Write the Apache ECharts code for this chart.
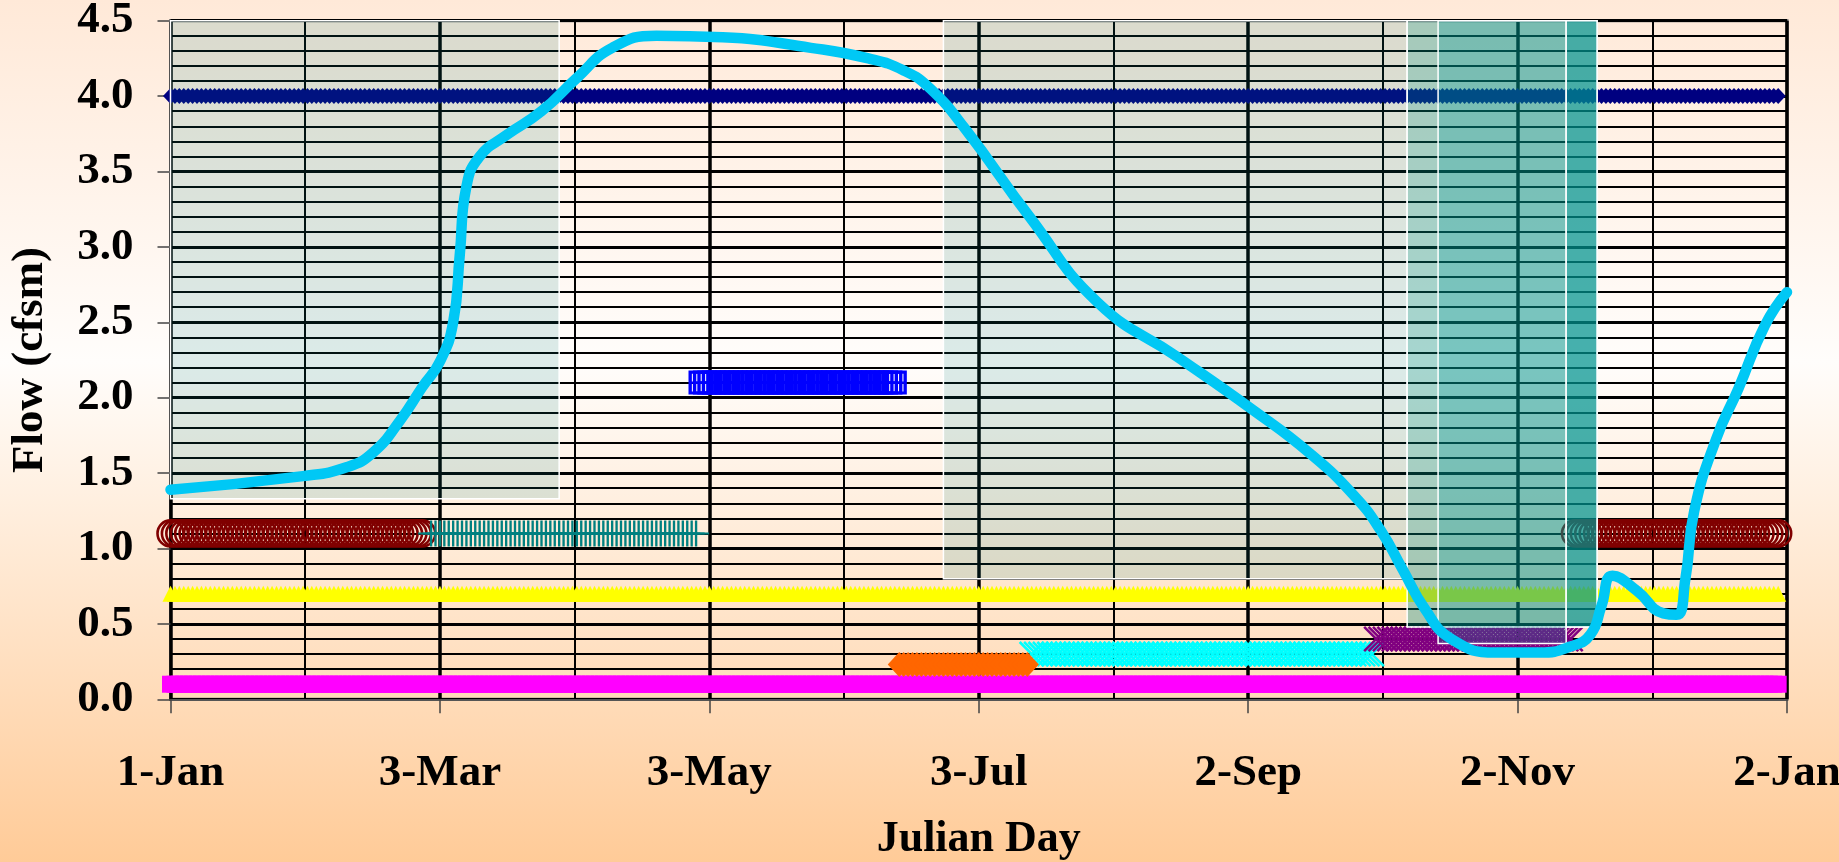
<!DOCTYPE html>
<html>
<head>
<meta charset="utf-8">
<script src="https://cdn.jsdelivr.net/npm/echarts@6/dist/echarts.min.js"></script>
<style>
  html, body { margin: 0; padding: 0; }
  body {
    width: 1839px; height: 862px; overflow: hidden;
    background: linear-gradient(to bottom, #FFE9D8 0%, #FFFDFB 42%, #FFCB98 100%);
  }
  #chart { width: 1839px; height: 862px; }
</style>
</head>
<body>
<div id="chart"></div>
<script>
// ---------- data ----------
const dayLabels = ['1-Jan', '3-Mar', '3-May', '3-Jul', '2-Sep', '2-Nov', '2-Jan'];
const yTickLabels = ['0.0', '0.5', '1.0', '1.5', '2.0', '2.5', '3.0', '3.5', '4.0', '4.5'];

// flow curve (day index from 1-Jan, flow in cfsm)
const flowDays = [0, 30, 40, 46, 52, 57, 61, 64, 65.5, 67, 70, 76, 84, 92, 100, 110, 125, 145, 158, 166,
  172, 180, 194.5, 210, 228, 245, 258, 268, 274, 279, 284, 290, 300, 310, 317, 321.5, 324, 326.5, 332,
  338, 341, 343, 345, 350, 355, 361, 366];
const flowValues = [1.39, 1.48, 1.54, 1.64, 1.85, 2.07, 2.24, 2.50, 2.95, 3.40, 3.60, 3.74, 3.90, 4.12, 4.32, 4.40, 4.39, 4.32, 4.25, 4.17,
  4.05, 3.78, 3.20, 2.63, 2.27, 1.92, 1.63, 1.35, 1.12, 0.86, 0.60, 0.40, 0.31, 0.31, 0.35, 0.43, 0.62, 0.82, 0.72,
  0.57, 0.56, 0.80, 1.25, 1.73, 2.06, 2.48, 2.70];

// flow-criterion bands: constant value over a span of days
const bandValue    = [4.0, 0.7, 0.1, 1.1, 1.1, 2.1, 0.3, 0.23, 0.4, 1.1];
const bandFirstDay = [0,   0,   0,   0,   59,  120, 195, 165,  273, 318];
const bandLastDay  = [364, 364, 364, 57,  119, 164, 272, 194,  317, 364];

// shaded seasonal windows
const shadeStart = [0,    175, 280,  287,  316];
const shadeEnd   = [88,   280, 323,  316,  323];
const shadeLow   = [1.33, 0.8, 0.48, 0.37, 0.48];
const shadeHigh  = [4.5,  4.5, 4.5,  4.5,  4.5];

// ---------- styles ----------
const FONT = '"Liberation Serif", "Times New Roman", serif';
const plusPath = 'path://M-1,-0.08L1,-0.08L1,0.08L-1,0.08Z M-0.09,-1L0.09,-1L0.09,1L-0.09,1Z';
const xPath = 'path://M-1,-0.86L-0.86,-1L1,0.86L0.86,1Z M0.86,-1L1,-0.86L-0.86,1L-1,0.86Z';
const boxPath = 'path://M-1,-1L1,-1L1,1L-1,1Z M-0.72,-0.74L-0.72,-0.1L0.72,-0.1L0.72,-0.74Z M-0.72,0.1L-0.72,0.74L0.72,0.74L0.72,0.1Z';
const bandStyle = [
  { symbol: 'diamond', size: [15, 16], color: '#000080' },
  { symbol: 'triangle', size: [16, 16], color: '#FFFF00' },
  { symbol: 'rect', size: [17, 17], color: '#FF00FF' },
  { symbol: 'circle', size: 26, color: 'rgba(0,0,0,0)', border: '#800000', bw: 2.6 },
  { symbol: plusPath, size: 26, color: '#008080' },
  { symbol: boxPath, size: 24, color: '#0000FF' },
  { symbol: xPath, size: 26, color: '#00FFFF' },
  { symbol: 'diamond', size: [23, 25], color: '#FF6600' },
  { symbol: xPath, size: 26, color: '#800080' },
  { symbol: 'circle', size: 26, color: 'rgba(0,0,0,0)', border: '#800000', bw: 2.6 }
];
const shadeFill = ['rgba(0,128,128,0.14)', 'rgba(0,128,128,0.14)', 'rgba(0,140,125,0.35)',
  'rgba(0,155,151,0.27)', 'rgba(0,150,149,0.58)'];

// ---------- build ----------
const bandSeries = bandValue.map((v, i) => {
  const pts = [];
  for (let d = bandFirstDay[i]; d <= bandLastDay[i]; d++) pts.push([d, v]);
  const st = bandStyle[i];
  return {
    type: 'scatter', data: pts, z: 2, silent: true,
    symbol: st.symbol, symbolSize: st.size, symbolKeepAspect: false,
    itemStyle: { color: st.color, borderColor: st.border || null, borderWidth: st.bw || 0, opacity: 1 }
  };
});

const shadeSeries = {
  type: 'custom', z: 3, silent: true,
  data: shadeStart.map((s, i) => [i, s, shadeEnd[i], shadeLow[i], shadeHigh[i]]),
  encode: { x: [1, 2], y: [3, 4] },
  renderItem: (params, api) => {
    const i = api.value(0);
    const p0 = api.coord([api.value(1), api.value(4)]);
    const p1 = api.coord([api.value(2), api.value(3)]);
    return {
      type: 'rect',
      shape: { x: p0[0], y: p0[1], width: p1[0] - p0[0], height: p1[1] - p0[1] },
      style: { fill: shadeFill[i], stroke: '#ffffff', lineWidth: 1.5 }
    };
  }
};

const flowSeries = {
  type: 'line', z: 4, silent: true,
  data: flowDays.map((d, i) => [d, flowValues[i]]),
  smooth: 0.5, showSymbol: false, symbol: 'none',
  lineStyle: { color: '#00C8F5', width: 10.5, cap: 'round', join: 'round' }
};

const labelText = { fontFamily: FONT, fontWeight: 'bold', fontSize: 45, color: '#000' };

const option = {
  animation: false,
  backgroundColor: 'transparent',
  grid: {
    left: 170.5, right: 52, top: 20.7, bottom: 162.7,
    containLabel: false, outerBoundsMode: 'none',
    show: true, borderColor: '#666', borderWidth: 3, backgroundColor: 'transparent'
  },
  xAxis: {
    type: 'value', min: 0, max: 366, interval: 61,
    name: 'Julian Day', nameLocation: 'middle', nameGap: 118,
    nameTextStyle: Object.assign({}, labelText, { fontSize: 44 }),
    axisLine: { show: true, onZero: false, lineStyle: { color: '#555', width: 2 } },
    axisTick: { show: true, length: 14, lineStyle: { color: '#444', width: 1.5 } },
    axisLabel: Object.assign({}, labelText, { margin: 52, hideOverlap: false, formatter: (v) => dayLabels[Math.round(v / 61)] || '' }),
    splitLine: { show: true, lineStyle: { color: '#000', width: 3.5 } },
    minorTick: { show: false, splitNumber: 2 },
    minorSplitLine: { show: true, lineStyle: { color: '#000', width: 2 } }
  },
  yAxis: {
    type: 'value', min: 0, max: 4.5, interval: 0.5,
    name: 'Flow (cfsm)', nameLocation: 'middle', nameGap: 118, nameRotate: 90,
    nameTextStyle: labelText,
    axisLine: { show: true, lineStyle: { color: '#000', width: 1.5 } },
    axisTick: { show: true, length: 13, lineStyle: { color: '#444', width: 1.5 } },
    axisLabel: Object.assign({}, labelText, { margin: 37, formatter: (v) => yTickLabels[Math.round(v / 0.5)] || '' }),
    splitLine: { show: true, lineStyle: { color: '#000', width: 3 } },
    minorTick: { show: false, splitNumber: 5 },
    minorSplitLine: { show: true, lineStyle: { color: '#000', width: 2 } }
  },
  series: [...bandSeries, shadeSeries, flowSeries]
};

const chart = echarts.init(document.getElementById('chart'), null, { renderer: 'canvas' });
chart.setOption(option);
</script>
</body>
</html>
